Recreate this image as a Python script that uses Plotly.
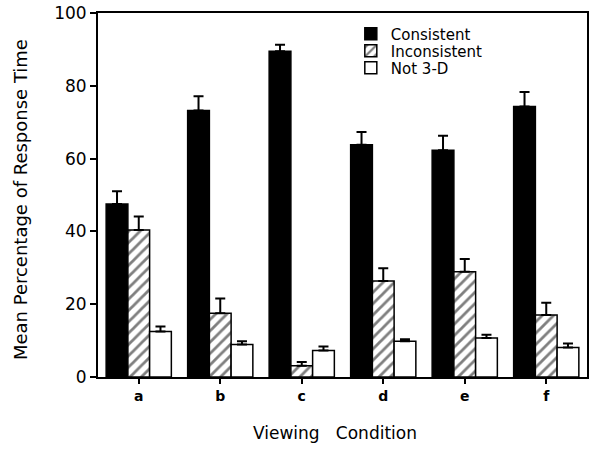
import plotly.graph_objects as go

categories = ["a", "b", "c", "d", "e", "f"]
series_names = ["Consistent", "Inconsistent", "Not 3-D"]
consistent = [47.5, 73.2, 89.5, 63.8, 62.3, 74.3]
consistent_err = [3.5, 3.9, 1.8, 3.5, 4.0, 4.0]
inconsistent = [40.4, 17.5, 3.1, 26.4, 28.9, 17.0]
inconsistent_err = [3.7, 4.1, 1.0, 3.5, 3.5, 3.4]
not3d = [12.5, 8.9, 7.3, 9.8, 10.7, 8.1]
not3d_err = [1.4, 0.9, 1.1, 0.6, 0.9, 1.1]

FONT = "DejaVu Sans"

def err(vals):
    return dict(type="data", array=vals, arrayminus=[0] * len(vals), symmetric=False,
                color="black", thickness=2, width=5, visible=True)

fig = go.Figure()
fig.add_bar(x=categories, y=consistent, name=series_names[0], error_y=err(consistent_err),
            legend="legend",
            marker=dict(color="black", line=dict(color="black", width=1.5)))
fig.add_bar(x=categories, y=inconsistent, name=series_names[1], error_y=err(inconsistent_err),
            legend="legend2",
            marker=dict(color="white", line=dict(color="black", width=1.5),
                        pattern=dict(shape="/", fgcolor="black", bgcolor="white", size=8, solidity=0.35)))
fig.add_bar(x=categories, y=not3d, name=series_names[2], error_y=err(not3d_err),
            legend="legend3",
            marker=dict(color="white", line=dict(color="black", width=1.5)))

def leg(y):
    return dict(x=0.517, y=y, xanchor="left", yanchor="middle",
                font=dict(family=FONT, size=15, color="black"),
                bgcolor="rgba(0,0,0,0)", borderwidth=0)

fig.update_layout(
    width=589, height=452,
    margin=dict(l=98, r=2, t=13, b=75, autoexpand=False),
    paper_bgcolor="white", plot_bgcolor="white",
    barmode="group", bargap=0.2, bargroupgap=0,
    font=dict(family=FONT, color="black"),
    showlegend=True,
    legend=leg(0.9423), legend2=leg(0.8956), legend3=leg(0.8489),
    annotations=[
        dict(text="Viewing   Condition", xref="paper", yref="paper", x=0.4847, y=-0.1538,
             xanchor="center", yanchor="middle", showarrow=False,
             font=dict(family=FONT, size=17, color="black")),
        dict(text="Mean Percentage of Response Time", xref="paper", yref="paper",
             x=-0.1595, y=0.486, xanchor="center", yanchor="middle", textangle=-90,
             showarrow=False, font=dict(family=FONT, size=18, color="black")),
    ],
)
fig.update_xaxes(
    range=[-0.5, 5.5], showline=True, linecolor="black", linewidth=2, mirror=True,
    ticks="outside", ticklen=5, tickwidth=1.5, tickcolor="black", automargin=False,
    tickfont=dict(family=FONT, size=14, color="black", weight="bold"),
    showgrid=False, zeroline=False,
)
fig.update_yaxes(
    range=[0, 100], tickvals=[0, 20, 40, 60, 80, 100], showline=True, linecolor="black",
    linewidth=2, mirror=True, ticks="outside", ticklen=6, tickwidth=2, tickcolor="black",
    automargin=False, ticklabeloverflow="allow",
    tickfont=dict(family=FONT, size=17, color="black"),
    showgrid=False, zeroline=False,
)

# remove the browser's default 8px body margin so the figure fills the window
fig.write_html("out.html", config={"displayModeBar": False},
               post_script="document.body.style.margin='0';document.body.style.overflow='hidden';")
